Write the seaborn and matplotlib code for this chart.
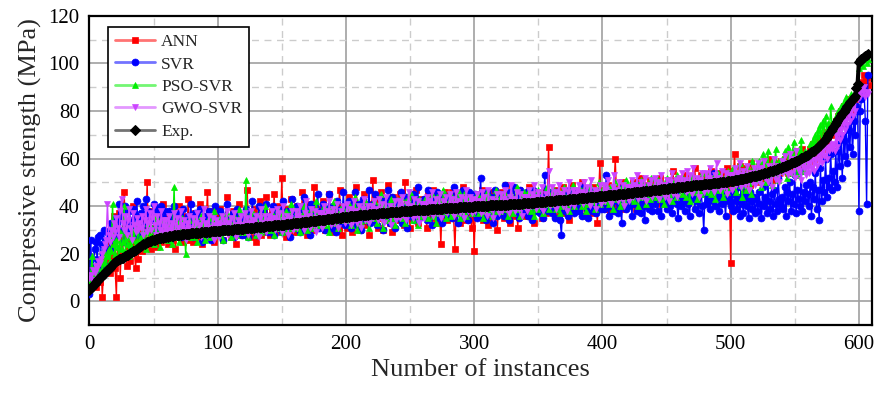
import numpy as np
import pandas as pd
import matplotlib
matplotlib.use("Agg")
import matplotlib.pyplot as plt
import matplotlib.colors as mcolors
import seaborn as sns
from matplotlib.ticker import MultipleLocator

exp_vals = [
    4.9, 5.5, 6.1, 6.8, 7.4, 8.0, 8.6, 9.2, 9.8, 10.4, 11.0, 11.5, 12.0, 12.6, 13.1, 13.6, 14.2, 14.8, 15.5, 16.1,
    16.6, 17.0, 17.3, 17.6, 17.9, 18.1, 18.4, 18.7, 19.0, 19.3, 19.6, 19.9, 20.2, 20.6, 21.0, 21.3, 21.7, 22.1, 22.5, 22.9,
    23.2, 23.6, 23.9, 24.2, 24.5, 24.8, 25.1, 25.3, 25.5, 25.7, 25.9, 26.0, 26.2, 26.3, 26.5, 26.6, 26.7, 26.8, 26.9, 27.0,
    27.1, 27.2, 27.3, 27.4, 27.5, 27.6, 27.7, 27.8, 27.9, 28.0, 28.0, 28.1, 28.2, 28.2, 28.3, 28.4, 28.4, 28.5, 28.5, 28.6,
    28.6, 28.7, 28.7, 28.8, 28.8, 28.9, 28.9, 29.0, 29.0, 29.1, 29.1, 29.2, 29.2, 29.3, 29.3, 29.4, 29.4, 29.5, 29.5, 29.6,
    29.6, 29.7, 29.7, 29.8, 29.8, 29.9, 29.9, 30.0, 30.0, 30.1, 30.1, 30.2, 30.2, 30.3, 30.3, 30.4, 30.4, 30.5, 30.5, 30.6,
    30.6, 30.7, 30.7, 30.8, 30.8, 30.9, 30.9, 31.0, 31.0, 31.1, 31.1, 31.2, 31.2, 31.3, 31.3, 31.4, 31.4, 31.5, 31.5, 31.6,
    31.6, 31.7, 31.7, 31.8, 31.9, 31.9, 32.0, 32.0, 32.1, 32.2, 32.2, 32.3, 32.3, 32.4, 32.5, 32.5, 32.6, 32.6, 32.7, 32.8,
    32.8, 32.9, 32.9, 33.0, 33.1, 33.1, 33.2, 33.3, 33.3, 33.4, 33.5, 33.5, 33.6, 33.7, 33.7, 33.8, 33.9, 33.9, 34.0, 34.1,
    34.1, 34.2, 34.3, 34.3, 34.4, 34.5, 34.5, 34.6, 34.7, 34.7, 34.8, 34.9, 34.9, 35.0, 35.1, 35.1, 35.2, 35.3, 35.3, 35.4,
    35.5, 35.5, 35.6, 35.7, 35.7, 35.8, 35.9, 35.9, 36.0, 36.0, 36.1, 36.2, 36.2, 36.3, 36.3, 36.4, 36.5, 36.5, 36.6, 36.6,
    36.7, 36.7, 36.8, 36.8, 36.9, 36.9, 37.0, 37.0, 37.1, 37.1, 37.2, 37.2, 37.3, 37.3, 37.4, 37.4, 37.5, 37.5, 37.6, 37.6,
    37.7, 37.7, 37.7, 37.8, 37.8, 37.9, 37.9, 38.0, 38.0, 38.0, 38.1, 38.1, 38.2, 38.2, 38.2, 38.3, 38.3, 38.4, 38.4, 38.4,
    38.5, 38.5, 38.5, 38.6, 38.6, 38.7, 38.7, 38.7, 38.8, 38.8, 38.8, 38.9, 38.9, 39.0, 39.0, 39.0, 39.1, 39.1, 39.1, 39.2,
    39.2, 39.2, 39.3, 39.3, 39.3, 39.4, 39.4, 39.4, 39.5, 39.5, 39.5, 39.6, 39.6, 39.6, 39.7, 39.7, 39.7, 39.8, 39.8, 39.8,
    39.9, 39.9, 39.9, 40.0, 40.0, 40.0, 40.1, 40.1, 40.1, 40.2, 40.2, 40.2, 40.3, 40.3, 40.3, 40.4, 40.4, 40.4, 40.5, 40.5,
    40.5, 40.6, 40.6, 40.6, 40.7, 40.7, 40.7, 40.8, 40.8, 40.8, 40.9, 40.9, 40.9, 41.0, 41.0, 41.0, 41.1, 41.1, 41.2, 41.2,
    41.2, 41.3, 41.3, 41.4, 41.4, 41.4, 41.5, 41.5, 41.6, 41.6, 41.7, 41.7, 41.8, 41.8, 41.9, 41.9, 42.0, 42.0, 42.1, 42.1,
    42.2, 42.2, 42.3, 42.3, 42.4, 42.4, 42.5, 42.5, 42.6, 42.6, 42.7, 42.7, 42.8, 42.8, 42.9, 42.9, 43.0, 43.0, 43.1, 43.1,
    43.2, 43.2, 43.3, 43.3, 43.4, 43.4, 43.5, 43.5, 43.6, 43.7, 43.7, 43.8, 43.8, 43.9, 43.9, 44.0, 44.0, 44.1, 44.2, 44.2,
    44.3, 44.3, 44.4, 44.4, 44.5, 44.6, 44.6, 44.7, 44.7, 44.8, 44.9, 44.9, 45.0, 45.0, 45.1, 45.2, 45.2, 45.3, 45.3, 45.4,
    45.5, 45.5, 45.6, 45.6, 45.7, 45.8, 45.8, 45.9, 45.9, 46.0, 46.1, 46.1, 46.2, 46.2, 46.3, 46.4, 46.4, 46.5, 46.5, 46.6,
    46.7, 46.7, 46.8, 46.9, 46.9, 47.0, 47.1, 47.1, 47.2, 47.3, 47.3, 47.4, 47.5, 47.5, 47.6, 47.7, 47.7, 47.8, 47.9, 47.9,
    48.0, 48.0, 48.1, 48.2, 48.2, 48.3, 48.3, 48.4, 48.5, 48.5, 48.6, 48.7, 48.7, 48.8, 48.8, 48.9, 49.0, 49.0, 49.1, 49.2,
    49.2, 49.3, 49.3, 49.4, 49.5, 49.5, 49.6, 49.7, 49.7, 49.8, 49.9, 49.9, 50.0, 50.1, 50.1, 50.2, 50.3, 50.3, 50.4, 50.5,
    50.6, 50.7, 50.8, 50.9, 51.0, 51.1, 51.2, 51.3, 51.4, 51.5, 51.6, 51.7, 51.9, 52.0, 52.1, 52.2, 52.3, 52.5, 52.6, 52.7,
    52.9, 53.0, 53.2, 53.3, 53.5, 53.6, 53.8, 53.9, 54.1, 54.3, 54.4, 54.6, 54.8, 55.0, 55.2, 55.4, 55.6, 55.8, 56.0, 56.2,
    56.4, 56.6, 56.8, 57.0, 57.3, 57.5, 57.7, 58.0, 58.2, 58.5, 58.7, 59.0, 59.2, 59.5, 59.8, 60.1, 60.3, 60.6, 60.9, 61.2,
    61.5, 61.9, 62.2, 62.6, 63.0, 63.4, 63.8, 64.3, 64.8, 65.3, 65.8, 66.4, 67.0, 67.6, 68.3, 69.0, 69.8, 70.6, 71.5, 72.4,
    73.3, 74.2, 75.0, 75.8, 76.6, 77.4, 78.2, 79.0, 79.8, 80.6, 81.4, 82.2, 83.0, 83.7, 84.3, 84.9, 85.5, 86.2, 89.6, 91.4,
    100.6, 101.2, 101.8, 102.3, 102.8, 103.2, 103.6, 104.0,
]

ann_vals = [
    12, 10, 13, 9, 14, 6, 11, 15, 8, 18, 2, 13, 16, 22, 15, 17, 12, 25, 19, 36,
    14, 2, 30, 37, 10, 26, 19, 46, 33, 15, 22, 28, 17, 24, 40, 21, 14, 26, 18, 31,
    28, 21, 35, 26, 30, 50, 24, 38, 22, 31, 27, 34, 29, 23, 36, 30, 25, 41, 28, 32,
    30, 24, 35, 28, 38, 26, 31, 22, 34, 29, 40, 27, 33, 25, 36, 30, 28, 43, 26, 32,
    31, 25, 37, 29, 34, 27, 41, 30, 24, 35, 28, 32, 46, 27, 33, 29, 38, 25, 31, 36,
    33, 28, 39, 30, 26, 36, 31, 44, 29, 34, 27, 32, 38, 30, 24, 35, 29, 41, 31, 28,
    35, 29, 33, 47, 30, 36, 27, 32, 39, 31, 25, 34, 30, 42, 28, 33, 37, 29, 44, 31,
    34, 28, 38, 31, 45, 30, 36, 29, 40, 33, 52, 31, 35, 27, 39, 32, 30, 43, 34, 29,
    36, 31, 40, 29, 35, 33, 46, 30, 38, 34, 28, 41, 32, 37, 30, 48, 35, 31, 39, 33,
    37, 32, 42, 35, 30, 39, 34, 45, 33, 29, 38, 36, 41, 31, 35, 47, 34, 28, 40, 36,
    39, 31, 44, 35, 37, 29, 42, 36, 48, 33, 38, 30, 40, 35, 45, 32, 37, 41, 28, 36,
    40, 51, 34, 38, 43, 31, 37, 46, 35, 30, 39, 42, 36, 49, 33, 38, 29, 44, 37, 35,
    41, 34, 45, 37, 39, 32, 50, 36, 42, 38, 31, 44, 37, 40, 35, 47, 33, 39, 43, 36,
    42, 36, 39, 31, 45, 38, 41, 35, 47, 40, 37, 33, 43, 39, 24, 41, 36, 46, 38, 34,
    43, 37, 40, 46, 35, 22, 41, 38, 44, 33, 39, 48, 36, 42, 34, 40, 45, 37, 31, 41,
    21, 42, 38, 45, 36, 40, 47, 34, 41, 37, 43, 32, 39, 46, 35, 42, 38, 44, 30, 40,
    43, 37, 46, 35, 41, 49, 38, 42, 33, 45, 39, 36, 44, 40, 31, 47, 38, 42, 36, 45,
    39, 44, 36, 48, 41, 37, 45, 33, 42, 39, 46, 38, 43, 35, 40, 47, 37, 44, 65, 41,
    45, 38, 43, 36, 47, 41, 35, 44, 39, 48, 42, 37, 46, 40, 34, 43, 49, 38, 45, 41,
    40, 46, 38, 44, 50, 42, 36, 47, 41, 45, 39, 43, 37, 48, 42, 46, 33, 44, 58, 41,
    47, 42, 45, 39, 49, 43, 38, 46, 41, 48, 60, 44, 40, 47, 42, 50, 45, 39, 46, 43,
    48, 43, 46, 41, 50, 45, 39, 47, 44, 52, 42, 48, 45, 40, 49, 46, 43, 51, 44, 47,
    50, 44, 48, 43, 46, 52, 41, 47, 49, 45, 42, 51, 46, 48, 43, 55, 47, 44, 50, 46,
    51, 46, 49, 44, 53, 47, 50, 42, 48, 52, 45, 49, 56, 47, 44, 51, 48, 53, 46, 50,
    47, 53, 49, 51, 45, 55, 48, 52, 50, 46, 54, 49, 51, 47, 53, 50, 48, 56, 52, 49,
    16, 55, 50, 62, 48, 53, 51, 57, 49, 54, 52, 47, 56, 51, 53, 49, 58, 52, 50, 55,
    54, 51, 57, 53, 50, 56, 55, 59, 52, 57, 54, 60, 53, 56, 51, 58, 55, 57, 54, 59,
    58, 55, 60, 57, 62, 54, 59, 58, 61, 56, 63, 58, 60, 57, 62, 59, 64, 58, 61, 60,
    62, 59, 64, 61, 66, 60, 65, 63, 67, 62, 68, 64, 70, 65, 71, 67, 69, 72, 70, 73,
    74, 71, 76, 73, 78, 74, 80, 76, 82, 78, 83, 79, 85, 81, 80, 84, 82, 86, 85, 88,
    86, 88, 90, 92, 95, 89, 94, 91,
]

svr_vals = [
    3, 26, 9, 14, 22, 25, 18, 27, 28, 12, 24, 30, 20, 15, 29, 27, 22, 33, 26, 30,
    35, 32, 28, 41, 30, 37, 36, 25, 40, 33, 29, 38, 34, 27, 39, 31, 36, 42, 28, 35,
    37, 32, 40, 29, 43, 35, 38, 31, 36, 34, 41, 30, 39, 33, 37, 28, 40, 35, 32, 38,
    34, 30, 38, 26, 36, 32, 40, 29, 35, 31, 37, 27, 33, 39, 30, 34, 28, 36, 32, 41,
    33, 27, 37, 31, 35, 29, 39, 32, 25, 36, 30, 34, 28, 38, 33, 26, 35, 31, 40, 29,
    34, 28, 38, 32, 26, 36, 30, 41, 33, 29, 35, 31, 37, 27, 34, 39, 30, 32, 36, 28,
    35, 29, 39, 33, 27, 37, 31, 42, 34, 30, 36, 28, 40, 32, 35, 38, 30, 33, 41, 29,
    36, 30, 34, 40, 28, 37, 33, 31, 39, 35, 29, 42, 34, 31, 38, 36, 27, 35, 43, 32,
    37, 31, 40, 34, 29, 38, 33, 44, 35, 30, 39, 36, 28, 41, 34, 32, 38, 35, 45, 31,
    38, 32, 41, 35, 30, 39, 34, 45, 36, 31, 40, 37, 29, 42, 35, 33, 39, 36, 46, 32,
    39, 33, 42, 36, 31, 40, 35, 46, 37, 32, 41, 38, 30, 43, 36, 34, 40, 37, 47, 33,
    34, 41, 37, 45, 32, 39, 36, 43, 38, 30, 42, 35, 40, 47, 33, 38, 44, 36, 31, 41,
    42, 35, 39, 46, 33, 40, 37, 44, 31, 41, 38, 36, 45, 34, 42, 39, 48, 35, 40, 37,
    36, 43, 40, 34, 47, 38, 41, 32, 44, 39, 37, 46, 35, 42, 40, 33, 45, 38, 41, 36,
    44, 37, 41, 35, 48, 39, 42, 33, 45, 40, 38, 47, 36, 43, 41, 34, 46, 39, 42, 37,
    38, 45, 35, 42, 39, 52, 36, 43, 40, 34, 46, 41, 37, 44, 39, 33, 47, 42, 36, 43,
    45, 38, 42, 36, 49, 40, 43, 34, 46, 41, 39, 48, 37, 44, 42, 35, 47, 40, 43, 38,
    39, 46, 36, 43, 40, 34, 47, 42, 38, 45, 41, 37, 44, 40, 35, 53, 42, 38, 46, 40,
    44, 37, 41, 35, 46, 39, 43, 34, 28, 40, 45, 38, 42, 36, 47, 41, 39, 44, 37, 43,
    40, 46, 38, 44, 36, 48, 41, 45, 39, 35, 47, 42, 38, 44, 40, 37, 46, 41, 43, 39,
    45, 39, 43, 53, 41, 36, 46, 40, 44, 38, 47, 42, 37, 45, 41, 33, 48, 43, 39, 46,
    40, 47, 43, 36, 45, 41, 49, 38, 44, 42, 37, 46, 40, 34, 48, 43, 39, 45, 41, 38,
    46, 41, 44, 38, 50, 43, 36, 47, 42, 45, 39, 49, 44, 40, 37, 48, 43, 46, 41, 35,
    44, 40, 47, 42, 38, 50, 45, 41, 36, 48, 43, 46, 39, 44, 42, 37, 49, 45, 40, 30,
    45, 41, 48, 43, 39, 46, 42, 54, 40, 47, 44, 38, 45, 41, 49, 43, 36, 46, 42, 44,
    40, 45, 38, 47, 42, 39, 44, 36, 48, 41, 37, 45, 43, 40, 35, 46, 42, 39, 44, 37,
    43, 38, 46, 41, 35, 48, 40, 44, 37, 50, 42, 39, 45, 36, 47, 41, 38, 52, 43, 40,
    44, 39, 48, 36, 46, 42, 50, 38, 45, 41, 53, 37, 47, 43, 40, 55, 38, 46, 42, 49,
    45, 40, 50, 36, 48, 43, 54, 39, 47, 34, 56, 42, 51, 46, 60, 44, 52, 48, 62, 47,
    55, 50, 63, 48, 66, 57, 70, 52, 68, 61, 74, 58, 72, 65, 78, 62, 76, 70, 82, 80,
    38, 80, 85, 90, 88, 76, 41, 95,
]

pso_vals = [
    8, 12, 19, 10, 15, 11, 9, 14, 18, 17, 13, 16, 20, 15, 19, 22, 17, 21, 41, 24,
    20, 26, 23, 18, 29, 22, 25, 40, 21, 27, 24, 19, 28, 23, 26, 30, 22, 25, 32, 24,
    27, 24, 30, 26, 22, 29, 33, 25, 28, 31, 24, 27, 36, 26, 29, 23, 30, 28, 34, 27,
    29, 26, 32, 28, 24, 31, 48, 27, 30, 33, 25, 29, 35, 28, 31, 20, 30, 27, 34, 29,
    31, 27, 34, 29, 25, 32, 30, 36, 28, 33, 26, 31, 29, 35, 27, 32, 30, 38, 28, 31,
    32, 28, 35, 30, 26, 33, 31, 37, 29, 34, 27, 32, 30, 36, 28, 33, 31, 39, 29, 32,
    33, 29, 51, 31, 27, 34, 32, 38, 30, 35, 28, 33, 31, 37, 29, 34, 32, 40, 30, 33,
    34, 30, 37, 32, 28, 35, 33, 39, 31, 36, 29, 34, 32, 38, 30, 35, 33, 41, 31, 34,
    35, 31, 38, 33, 29, 36, 34, 40, 32, 37, 30, 35, 33, 39, 31, 36, 34, 42, 32, 35,
    37, 33, 36, 40, 32, 38, 35, 29, 39, 34, 37, 42, 33, 36, 31, 38, 35, 40, 34, 37,
    38, 34, 41, 36, 32, 39, 37, 44, 35, 30, 40, 37, 33, 38, 36, 42, 34, 39, 31, 37,
    39, 35, 42, 37, 33, 40, 38, 45, 36, 31, 41, 38, 34, 39, 37, 43, 35, 40, 32, 38,
    36, 41, 38, 44, 35, 39, 33, 42, 37, 40, 46, 38, 34, 41, 37, 39, 32, 43, 38, 36,
    41, 37, 43, 39, 35, 42, 38, 45, 36, 40, 33, 44, 39, 37, 42, 38, 47, 40, 35, 41,
    42, 38, 36, 44, 40, 37, 43, 39, 46, 35, 41, 38, 45, 40, 36, 42, 39, 44, 37, 41,
    43, 39, 45, 41, 37, 44, 40, 35, 42, 38, 46, 41, 39, 43, 36, 42, 40, 47, 38, 43,
    38, 44, 41, 46, 39, 43, 36, 42, 40, 45, 37, 43, 41, 48, 39, 42, 36, 44, 40, 46,
    44, 40, 46, 42, 38, 45, 41, 36, 43, 39, 47, 42, 40, 44, 37, 43, 41, 48, 39, 44,
    45, 41, 47, 43, 39, 46, 42, 37, 44, 40, 48, 43, 41, 45, 38, 44, 42, 49, 40, 45,
    46, 42, 48, 44, 40, 47, 43, 38, 45, 41, 49, 44, 42, 46, 39, 45, 43, 50, 41, 46,
    47, 43, 42, 49, 45, 41, 48, 44, 39, 46, 50, 43, 47, 45, 40, 48, 44, 42, 51, 46,
    48, 44, 43, 50, 46, 42, 49, 45, 40, 47, 51, 44, 48, 46, 41, 49, 45, 43, 52, 47,
    49, 45, 44, 51, 47, 43, 50, 46, 41, 48, 52, 45, 49, 47, 42, 50, 46, 44, 53, 48,
    50, 46, 45, 52, 48, 44, 51, 47, 42, 49, 53, 46, 50, 48, 43, 51, 47, 45, 54, 49,
    51, 47, 46, 53, 49, 45, 52, 48, 43, 50, 54, 47, 51, 49, 44, 52, 48, 46, 55, 50,
    53, 48, 56, 50, 46, 54, 51, 58, 49, 44, 55, 52, 47, 57, 50, 53, 45, 59, 51, 54,
    56, 51, 59, 53, 48, 62, 55, 50, 58, 63, 52, 57, 49, 60, 54, 64, 56, 51, 59, 55,
    60, 55, 63, 58, 52, 65, 59, 54, 62, 67, 56, 61, 53, 64, 58, 68, 60, 55, 63, 59,
    62, 58, 66, 61, 68, 63, 70, 65, 72, 66, 74, 68, 76, 70, 78, 72, 75, 71, 82, 74,
    75, 72, 78, 74, 80, 76, 82, 78, 84, 80, 86, 82, 84, 83, 87, 85, 86, 88, 90, 92,
    98, 100, 101, 99, 102, 103, 100, 102,
]

gwo_vals = [
    10, 11, 9, 13, 12, 15, 14, 17, 16, 18, 20, 22, 24, 26, 41, 28, 25, 30, 27, 33,
    29, 35, 31, 27, 38, 43, 33, 30, 36, 28, 34, 39, 31, 26, 37, 32, 29, 35, 30, 33,
    31, 36, 28, 34, 39, 29, 33, 37, 30, 35, 40, 32, 28, 36, 33, 30, 38, 29, 34, 31,
    34, 29, 36, 30, 33, 28, 37, 29, 35, 31, 27, 38, 32, 30, 34, 26, 33, 31, 36, 28,
    30, 35, 28, 33, 37, 29, 32, 27, 34, 39, 30, 33, 28, 36, 31, 29, 35, 26, 32, 34,
    33, 27, 32, 36, 29, 34, 30, 38, 28, 33, 35, 29, 31, 37, 27, 32, 34, 30, 36, 29,
    32, 37, 30, 35, 28, 33, 38, 31, 34, 29, 36, 32, 27, 35, 39, 30, 33, 36, 29, 34,
    36, 31, 38, 32, 35, 30, 39, 31, 37, 33, 29, 40, 34, 32, 36, 28, 35, 33, 38, 30,
    33, 38, 31, 36, 40, 32, 35, 30, 37, 42, 33, 36, 31, 39, 34, 32, 38, 29, 35, 37,
    37, 31, 36, 40, 33, 38, 34, 42, 32, 37, 39, 33, 35, 41, 31, 36, 38, 34, 40, 33,
    36, 41, 34, 39, 32, 37, 42, 35, 38, 33, 40, 36, 31, 39, 43, 34, 37, 40, 33, 38,
    40, 35, 42, 36, 39, 34, 43, 35, 41, 37, 33, 44, 38, 36, 40, 32, 39, 37, 42, 34,
    37, 42, 35, 40, 44, 36, 39, 34, 41, 46, 37, 40, 35, 43, 38, 36, 42, 33, 39, 41,
    41, 35, 40, 44, 37, 42, 38, 46, 36, 41, 43, 37, 39, 45, 35, 40, 42, 38, 44, 37,
    40, 45, 38, 43, 36, 41, 46, 39, 42, 37, 44, 40, 35, 43, 47, 38, 41, 44, 37, 42,
    43, 38, 45, 39, 42, 37, 46, 38, 44, 40, 36, 47, 41, 39, 43, 35, 42, 40, 45, 37,
    40, 45, 38, 43, 47, 39, 42, 37, 44, 49, 40, 43, 38, 46, 41, 39, 45, 36, 42, 44,
    44, 38, 43, 47, 40, 45, 41, 49, 39, 44, 46, 40, 42, 48, 38, 43, 45, 41, 55, 40,
    43, 48, 41, 46, 39, 44, 49, 42, 45, 40, 47, 43, 38, 46, 50, 41, 44, 47, 40, 45,
    47, 42, 49, 43, 46, 41, 50, 42, 48, 44, 40, 51, 45, 43, 47, 39, 46, 44, 49, 41,
    44, 49, 42, 47, 51, 43, 46, 41, 48, 53, 44, 47, 42, 50, 45, 43, 49, 40, 46, 48,
    48, 42, 47, 51, 44, 49, 45, 53, 43, 48, 50, 44, 46, 52, 42, 47, 49, 45, 51, 44,
    47, 52, 45, 50, 43, 48, 53, 46, 49, 44, 51, 47, 42, 50, 54, 45, 48, 51, 44, 49,
    52, 47, 54, 48, 51, 46, 55, 47, 53, 49, 45, 56, 50, 48, 52, 44, 51, 49, 54, 46,
    49, 54, 47, 52, 56, 48, 51, 46, 53, 58, 49, 52, 47, 55, 50, 48, 54, 45, 51, 53,
    53, 47, 52, 56, 49, 54, 50, 58, 48, 53, 55, 49, 51, 57, 47, 52, 54, 50, 56, 49,
    53, 58, 51, 56, 49, 54, 59, 52, 55, 50, 57, 53, 48, 56, 60, 51, 54, 57, 50, 55,
    59, 54, 61, 55, 58, 53, 62, 54, 60, 56, 52, 63, 57, 55, 59, 51, 58, 56, 61, 53,
    58, 54, 61, 56, 63, 55, 60, 57, 64, 59, 62, 58, 66, 61, 68, 60, 65, 63, 70, 64,
    66, 63, 70, 65, 73, 68, 75, 70, 77, 72, 79, 74, 80, 76, 82, 78, 84, 80, 86, 85,
    87, 86, 89, 88, 90, 86, 88, 87,
]

series_names = ["ANN", "SVR", "PSO-SVR", "GWO-SVR", "Exp."]
series_colors = ["#ff0000", "#0000ff", "#00ee00", "#cc44ff", "#000000"]
series_markers = ["s", "o", "^", "v", "D"]

n = len(exp_vals)
for vals in (ann_vals, svr_vals, pso_vals, gwo_vals):
    assert len(vals) == n, (len(vals), n)

idx = np.arange(n)
df = pd.DataFrame({"idx": idx, "ANN": ann_vals, "SVR": svr_vals,
                   "PSO-SVR": pso_vals, "GWO-SVR": gwo_vals, "Exp.": exp_vals})

sns.set_style("white")
plt.rcParams["font.family"] = ["Liberation Serif", "DejaVu Serif"]

fig = plt.figure(figsize=(8.77, 3.97), dpi=100)
ax = fig.add_axes([0.102, 0.181, 0.892, 0.779])

for name, col, mk in zip(series_names, series_colors, series_markers):
    if name == "Exp.":
        sns.lineplot(data=df, x="idx", y=name, color=col, marker=mk, markersize=5.5,
                     markeredgecolor=col, linewidth=3, label=name, ax=ax, zorder=6)
    else:
        sns.lineplot(data=df, x="idx", y=name, color=col, marker=mk, markersize=5,
                     markeredgecolor=col, markeredgewidth=0.5, linewidth=1,
                     label=name, ax=ax, zorder=3)

ax.set_xlim(0, 610)
ax.set_ylim(-10, 120)
ax.xaxis.set_major_locator(MultipleLocator(100))
ax.xaxis.set_minor_locator(MultipleLocator(50))
ax.yaxis.set_minor_locator(MultipleLocator(10))
ax.set_yticks([0, 20, 40, 60, 80, 100, 120])
ax.set_ylim(-10, 120)

ax.grid(True, which="major", color="#a0a0a0", linewidth=1.2, linestyle="-", zorder=0)
ax.grid(True, which="minor", color="#cccccc", linewidth=1.0, linestyle=(0, (5, 4)), zorder=0)
ax.set_axisbelow(True)

for sp in ax.spines.values():
    sp.set_color("black")
    sp.set_linewidth(1.6)

ax.tick_params(axis="both", which="major", direction="in", length=6, width=1.5,
               labelsize=15, pad=7, colors="black")
ax.tick_params(axis="both", which="minor", direction="in", length=3, width=1.2)
ax.tick_params(top=False, right=False)

ax.set_xlabel("Number of instances", fontsize=19, labelpad=4)
ax.set_ylabel("Compressive strength (MPa)", fontsize=19, labelpad=5)

leg = ax.legend(loc="upper left", bbox_to_anchor=(0.024, 0.964), borderaxespad=0,
                fontsize=12.5, frameon=True, fancybox=False, edgecolor="black",
                framealpha=1, handlelength=2.3, labelspacing=0.36, borderpad=0.4,
                handletextpad=0.35)
leg.get_frame().set_linewidth(1.2)
leg.set_zorder(10)
# legend lines are drawn lighter than the markers
for line, col in zip(leg.get_lines(), series_colors):
    rgb = np.array(mcolors.to_rgb(col))
    line.set_color(tuple(rgb + (1 - rgb) * 0.45))
    line.set_linewidth(2)
    line.set_markerfacecolor(col)
    line.set_markeredgecolor(col)

fig.savefig("out.png", dpi=100)
